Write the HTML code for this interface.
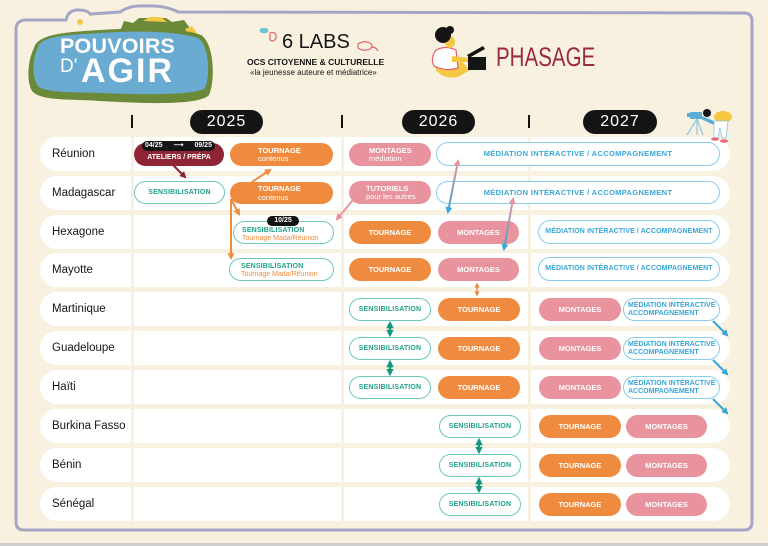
<!DOCTYPE html>
<html><head><meta charset="utf-8">
<style>
*{margin:0;padding:0;box-sizing:border-box}
body{width:768px;height:546px;background:#f9f1df;position:relative;overflow:hidden;font-family:"Liberation Sans",sans-serif}
svg{position:absolute;left:0;top:0}
.c{position:absolute;height:34px;background:#fff}
.l{left:40px;width:91px;border-radius:17px 0 0 17px}
.ca{left:134px;width:207px}
.cb{left:344px;width:184px}
.cc{left:531px;width:199px;border-radius:0 17px 17px 0}
.n{position:absolute;left:52px;height:34px;line-height:34px;font-size:11.5px;color:#151515}
.p{position:absolute;height:23px;border-radius:12px;display:flex;flex-direction:column;align-items:center;justify-content:center;font-weight:700;font-size:7.5px;line-height:8.5px;white-space:nowrap;padding-top:1px}
.o{background:#ee8b3f;color:#fff}
.k{background:#e8939d;color:#fff}
.r{background:#8e2435;color:#fff}
.t{background:#fff;border:1.3px solid #6cc8b8;color:#1fa088;font-size:7px;letter-spacing:.15px}
.b{background:#fff;border:1.3px solid #88cdec;color:#38a6d8}
.s{font-weight:400}
.so{font-weight:400;color:#f08a3c;letter-spacing:0}
.lf{align-items:flex-start}
.y{position:absolute;top:110px;height:24px;border-radius:12px;background:#141414;color:#fff;font-size:16px;line-height:24px;text-align:center;letter-spacing:1px}
.m{position:absolute;top:115px;width:2px;height:13px;background:#111}
.bl{position:absolute;background:#141414;color:#fff;font-weight:700;font-size:7px;border-radius:5px;height:10px;line-height:10px}
</style></head><body>

<svg width="768" height="546" viewBox="0 0 768 546">
  <line x1="0" y1="544.5" x2="768" y2="544.5" stroke="#cfcfcf" stroke-width="3"/>
  <path d="M16,522 L16,30 Q16,20 26,20 L66,20 Q68,10 78,10 Q88,10 90,14 L120,12 Q130,5 145,6 Q165,5 178,12 L744,13 Q752,13 752,21 L752,522 Q752,530 744,530 L24,530 Q16,530 16,522 Z" fill="none" stroke="#a4a6c6" stroke-width="3"/>
  <!-- logo -->
  <path d="M120,31 L124,21 L133,23 L139,18 L166,18 L172,22 L184,20 L192,31 Z" fill="#6a8a3a"/>
  <path d="M143,21 L150,17 L161,17 L167,22 Z" fill="#f3c845"/>
  <path d="M185,29 L192,26 L197,33 L189,35 Z" fill="#f3c845"/>
  <circle cx="80" cy="22" r="3" fill="#f3c845"/>
  <path d="M34,48 C38,33 70,32 100,30 C130,28 176,26 201,35 C215,44 215,82 209,95 C200,105 150,104 100,101 C70,99 40,101 32,91 C26,80 28,60 34,48 Z" fill="#6a8a3a"/>
  <path d="M38,47 C42,35 72,35 100,33 C130,31 172,30 198,38 C210,46 210,78 205,88 C196,95 150,95 100,93 C72,92 45,93 38,86 C32,78 32,60 38,47 Z" fill="#6aabd2"/>
  <text x="60" y="53" font-family="Liberation Sans, sans-serif" font-size="21.5" font-weight="700" fill="#fff" letter-spacing="0.2">POUVOIRS</text>
  <text x="60" y="72" font-family="Liberation Sans, sans-serif" font-size="19" fill="#fff">D'</text>
  <text x="81" y="82" font-family="Liberation Sans, sans-serif" font-size="34" font-weight="700" fill="#fff" letter-spacing="2">AGIR</text>
  <!-- 6 labs doodles -->
  <ellipse cx="264" cy="30.5" rx="4.5" ry="2.8" fill="#6cc3d5"/>
  <path d="M270,33 q4,-2 6,2 q1,4 -3,6 q-4,0 -3,-4 z" fill="none" stroke="#e0606a" stroke-width="1.2"/>
  <path d="M358,44 q6,-4 12,-1 q4,3 0,6 q-6,3 -12,-1 z M372,47 q4,0 6,4" fill="none" stroke="#e0606a" stroke-width="1.2"/>
  <!-- phasage person -->
  <path d="M434,66 Q440,80 458,77 L470,70 L462,62 Z" fill="#f5c842"/>
  <path d="M436,50 Q446,45 456,50 L458,68 Q446,72 434,66 Q430,58 436,50 Z" fill="#fff" stroke="#e4606a" stroke-width="1.2"/>
  <path d="M452,56 L470,58 L470,62 L452,62 Z" fill="#f5c842"/>
  <ellipse cx="450" cy="42" rx="5" ry="6" fill="#f5c842"/>
  <circle cx="443" cy="35" r="8" fill="#151515"/>
  <circle cx="450" cy="30" r="4" fill="#151515"/>
  <rect x="468" y="57" width="18" height="13" fill="#151515"/>
  <path d="M467,55 L483,46 L485,49 L469,58 Z" fill="#151515"/>
</svg>

<div style="position:absolute;left:282px;top:31px;font-size:20px;line-height:22px;color:#151515">6 LABS</div>
<div style="position:absolute;left:247px;top:57px;font-size:8.5px;line-height:10px;font-weight:700;color:#151515;white-space:nowrap">OCS CITOYENNE &amp; CULTURELLE</div>
<div style="position:absolute;left:250px;top:68px;font-size:8px;line-height:10px;color:#151515;white-space:nowrap">«la jeunesse auteure et médiatrice»</div>
<div style="position:absolute;left:496px;top:42px;font-size:27px;line-height:30px;color:#9a2a40;transform:scaleX(0.76);transform-origin:left top;white-space:nowrap">PHASAGE</div>

<div class="m" style="left:131px"></div>
<div class="m" style="left:341px"></div>
<div class="m" style="left:528px"></div>
<div class="y" style="left:190px;width:73px">2025</div>
<div class="y" style="left:402px;width:73px">2026</div>
<div class="y" style="left:583px;width:74px">2027</div>

<!-- rows -->
<div class="c l" style="top:137px"></div><div class="c ca" style="top:137px"></div><div class="c cb" style="top:137px"></div><div class="c cc" style="top:137px"></div>
<div class="c l" style="top:176px"></div><div class="c ca" style="top:176px"></div><div class="c cb" style="top:176px"></div><div class="c cc" style="top:176px"></div>
<div class="c l" style="top:215px"></div><div class="c ca" style="top:215px"></div><div class="c cb" style="top:215px"></div><div class="c cc" style="top:215px"></div>
<div class="c l" style="top:253px"></div><div class="c ca" style="top:253px"></div><div class="c cb" style="top:253px"></div><div class="c cc" style="top:253px"></div>
<div class="c l" style="top:292px"></div><div class="c ca" style="top:292px"></div><div class="c cb" style="top:292px"></div><div class="c cc" style="top:292px"></div>
<div class="c l" style="top:331px"></div><div class="c ca" style="top:331px"></div><div class="c cb" style="top:331px"></div><div class="c cc" style="top:331px"></div>
<div class="c l" style="top:370px"></div><div class="c ca" style="top:370px"></div><div class="c cb" style="top:370px"></div><div class="c cc" style="top:370px"></div>
<div class="c l" style="top:409px"></div><div class="c ca" style="top:409px"></div><div class="c cb" style="top:409px"></div><div class="c cc" style="top:409px"></div>
<div class="c l" style="top:448px"></div><div class="c ca" style="top:448px"></div><div class="c cb" style="top:448px"></div><div class="c cc" style="top:448px"></div>
<div class="c l" style="top:487px"></div><div class="c ca" style="top:487px"></div><div class="c cb" style="top:487px"></div><div class="c cc" style="top:487px"></div>

<div class="n" style="top:137px">Réunion</div>
<div class="n" style="top:176px">Madagascar</div>
<div class="n" style="top:215px">Hexagone</div>
<div class="n" style="top:253px">Mayotte</div>
<div class="n" style="top:292px">Martinique</div>
<div class="n" style="top:331px">Guadeloupe</div>
<div class="n" style="top:370px">Haïti</div>
<div class="n" style="top:409px">Burkina Fasso</div>
<div class="n" style="top:448px">Bénin</div>
<div class="n" style="top:487px">Sénégal</div>

<!-- Réunion -->
<div class="p r" style="left:134px;top:143px;width:90px;padding-top:8px;font-size:7px">ATELIERS / PRÉPA</div>
<div class="bl" style="left:142px;top:141px;width:73px;display:flex;justify-content:space-between;padding:0 3px"><span>04/25</span><span>⟶</span><span>09/25</span></div>
<div class="p o lf" style="left:230px;top:143px;width:103px;padding-left:28px"><span>TOURNAGE</span><span class="s">contenus</span></div>
<div class="p k lf" style="left:349px;top:143px;width:82px;padding-left:20px"><span>MONTAGES</span><span class="s">médiation</span></div>
<div class="p b" style="left:436px;top:142px;width:284px;height:24px;letter-spacing:.35px">MÉDIATION INTÉRACTIVE / ACCOMPAGNEMENT</div>

<!-- Madagascar -->
<div class="p t" style="left:134px;top:181px;width:91px">SENSIBILISATION</div>
<div class="p o lf" style="left:230px;top:182px;width:103px;height:22px;padding-left:28px"><span>TOURNAGE</span><span class="s">contenus</span></div>
<div class="p k lf" style="left:349px;top:181px;width:82px;padding-left:17px"><span>TUTORIELS</span><span class="s">pour les autres</span></div>
<div class="p b" style="left:436px;top:181px;width:284px;letter-spacing:.35px">MÉDIATION INTÉRACTIVE / ACCOMPAGNEMENT</div>

<!-- Hexagone -->
<div class="p t lf" style="left:233px;top:221px;width:101px;padding-left:8px;padding-top:5px"><span>SENSIBILISATION</span><span class="so">Tournage Mada/Réunion</span></div>
<div class="bl" style="left:267px;top:216px;width:32px;text-align:center">10/25</div>
<div class="p o" style="left:349px;top:221px;width:82px">TOURNAGE</div>
<div class="p k" style="left:438px;top:221px;width:81px">MONTAGES</div>
<div class="p b" style="left:538px;top:220px;width:182px;height:24px;font-size:7px;letter-spacing:.1px">MÉDIATION INTÉRACTIVE / ACCOMPAGNEMENT</div>

<!-- Mayotte -->
<div class="p t lf" style="left:229px;top:258px;width:105px;padding-left:11px;padding-top:3px"><span>SENSIBILISATION</span><span class="so">Tournage Mada/Réunion</span></div>
<div class="p o" style="left:349px;top:258px;width:82px">TOURNAGE</div>
<div class="p k" style="left:438px;top:258px;width:81px">MONTAGES</div>
<div class="p b" style="left:538px;top:257px;width:182px;height:24px;font-size:7px;letter-spacing:.1px">MÉDIATION INTÉRACTIVE / ACCOMPAGNEMENT</div>

<!-- Martinique / Guadeloupe / Haïti -->
<div class="p t" style="left:349px;top:298px;width:82px">SENSIBILISATION</div>
<div class="p o" style="left:438px;top:298px;width:82px">TOURNAGE</div>
<div class="p k" style="left:539px;top:298px;width:82px">MONTAGES</div>
<div class="p b lf" style="left:623px;top:298px;width:97px;padding-left:4px;font-size:7px;line-height:8px"><span>MÉDIATION INTÉRACTIVE</span><span>ACCOMPAGNEMENT</span></div>

<div class="p t" style="left:349px;top:337px;width:82px">SENSIBILISATION</div>
<div class="p o" style="left:438px;top:337px;width:82px">TOURNAGE</div>
<div class="p k" style="left:539px;top:337px;width:82px">MONTAGES</div>
<div class="p b lf" style="left:623px;top:337px;width:97px;padding-left:4px;font-size:7px;line-height:8px"><span>MÉDIATION INTÉRACTIVE</span><span>ACCOMPAGNEMENT</span></div>

<div class="p t" style="left:349px;top:376px;width:82px">SENSIBILISATION</div>
<div class="p o" style="left:438px;top:376px;width:82px">TOURNAGE</div>
<div class="p k" style="left:539px;top:376px;width:82px">MONTAGES</div>
<div class="p b lf" style="left:623px;top:376px;width:97px;padding-left:4px;font-size:7px;line-height:8px"><span>MÉDIATION INTÉRACTIVE</span><span>ACCOMPAGNEMENT</span></div>

<!-- Burkina / Bénin / Sénégal -->
<div class="p t" style="left:439px;top:415px;width:82px">SENSIBILISATION</div>
<div class="p o" style="left:539px;top:415px;width:82px">TOURNAGE</div>
<div class="p k" style="left:626px;top:415px;width:81px">MONTAGES</div>

<div class="p t" style="left:439px;top:454px;width:82px">SENSIBILISATION</div>
<div class="p o" style="left:539px;top:454px;width:82px">TOURNAGE</div>
<div class="p k" style="left:626px;top:454px;width:81px">MONTAGES</div>

<div class="p t" style="left:439px;top:493px;width:82px">SENSIBILISATION</div>
<div class="p o" style="left:539px;top:493px;width:82px">TOURNAGE</div>
<div class="p k" style="left:626px;top:493px;width:81px">MONTAGES</div>

<svg width="768" height="546" viewBox="0 0 768 546">
  <defs>
    <marker id="mR" viewBox="0 0 10 10" refX="7" refY="5" markerWidth="3.5" markerHeight="3.5" orient="auto-start-reverse"><path d="M0,0 L10,5 L0,10 z" fill="#8e2435"/></marker>
    <marker id="mO" viewBox="0 0 10 10" refX="7" refY="5" markerWidth="3.5" markerHeight="3.5" orient="auto-start-reverse"><path d="M0,0 L10,5 L0,10 z" fill="#ee8b3f"/></marker>
    <marker id="mK" viewBox="0 0 10 10" refX="7" refY="5" markerWidth="3.5" markerHeight="3.5" orient="auto-start-reverse"><path d="M0,0 L10,5 L0,10 z" fill="#e8939d"/></marker>
    <marker id="mB" viewBox="0 0 10 10" refX="7" refY="5" markerWidth="3.5" markerHeight="3.5" orient="auto-start-reverse"><path d="M0,0 L10,5 L0,10 z" fill="#38a6d8"/></marker>
    <marker id="mT" viewBox="0 0 10 10" refX="7" refY="5" markerWidth="3" markerHeight="3" orient="auto-start-reverse"><path d="M0,0 L10,5 L0,10 z" fill="#14977f"/></marker>
    <linearGradient id="g1" gradientUnits="userSpaceOnUse" x1="458" y1="161" x2="448" y2="212"><stop offset="0" stop-color="#e8939d"/><stop offset="1" stop-color="#38a6d8"/></linearGradient>
    <linearGradient id="g2" gradientUnits="userSpaceOnUse" x1="513" y1="199" x2="504" y2="249"><stop offset="0" stop-color="#e8939d"/><stop offset="1" stop-color="#38a6d8"/></linearGradient>
  </defs>
  <g fill="none" stroke-width="2">
    <path d="M173,165 L185,177" stroke="#8e2435" marker-end="url(#mR)"/>
    <path d="M252,182 L270,170" stroke="#ee8b3f" marker-end="url(#mO)"/>
    <path d="M231,199 L239,214" stroke="#ee8b3f" marker-end="url(#mO)"/>
    <path d="M231,199 L231,258" stroke="#ee8b3f" marker-end="url(#mO)"/>
    <path d="M353,200 L337,219" stroke="#e8939d" marker-end="url(#mK)"/>
    <path d="M458,161 L448,212" stroke="url(#g1)" marker-start="url(#mK)" marker-end="url(#mB)"/>
    <path d="M513,199 L504,249" stroke="url(#g2)" marker-start="url(#mK)" marker-end="url(#mB)"/>
    <path d="M477,284 L477,295" stroke="#ee8b3f" stroke-width="1.5" marker-start="url(#mO)" marker-end="url(#mO)"/>
    <path d="M390,323 L390,335" stroke="#14977f" stroke-width="2.5" marker-start="url(#mT)" marker-end="url(#mT)"/>
    <path d="M390,362 L390,374" stroke="#14977f" stroke-width="2.5" marker-start="url(#mT)" marker-end="url(#mT)"/>
    <path d="M479,440 L479,452" stroke="#14977f" stroke-width="2.5" marker-start="url(#mT)" marker-end="url(#mT)"/>
    <path d="M479,479 L479,491" stroke="#14977f" stroke-width="2.5" marker-start="url(#mT)" marker-end="url(#mT)"/>
    <path d="M713,321 L727,335" stroke="#38a6d8" marker-end="url(#mB)"/>
    <path d="M713,360 L727,374" stroke="#38a6d8" marker-end="url(#mB)"/>
    <path d="M713,399 L727,413" stroke="#38a6d8" marker-end="url(#mB)"/>
  </g>
  <!-- camera person -->
  <g stroke="#8ac8e0" stroke-width="1.2" fill="none">
    <path d="M697,119 L687,135 M697,119 L697,135 M697,119 L703,135"/>
  </g>
  <rect x="690" y="112" width="12" height="7" rx="1" fill="#5aaed6"/>
  <rect x="687" y="113" width="4" height="4" fill="#5aaed6"/>
  <path d="M702,116 L716,122 L714,125 L701,119 Z" fill="#5aaed6"/>
  <circle cx="707" cy="113" r="4" fill="#151515"/>
  <ellipse cx="723" cy="117" rx="9" ry="6" fill="#f5c842"/>
  <path d="M714,121 L728,121 L726,138 L722,138 L720,128 L718,138 L714,138 Z" fill="#fff" stroke="#8ac8e0" stroke-width="0.8"/>
  <ellipse cx="715" cy="139" rx="4" ry="1.8" fill="#ea6a78"/>
  <ellipse cx="724" cy="141" rx="4" ry="1.8" fill="#ea6a78"/>
</svg>
</body></html>
